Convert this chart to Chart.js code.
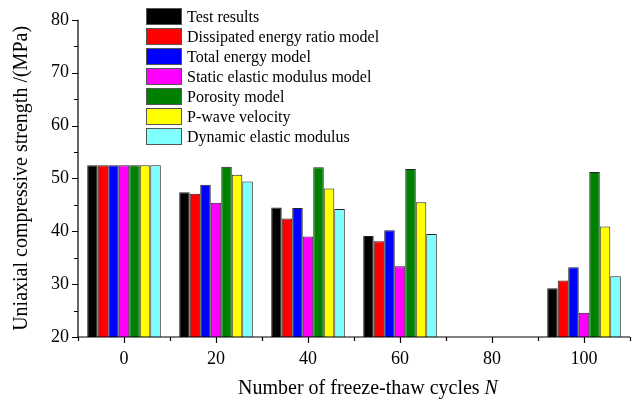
<!DOCTYPE html>
<html>
<head>
<meta charset="utf-8">
<script src="https://cdn.jsdelivr.net/npm/chart.js@4/dist/chart.umd.min.js"></script>
<style>
  html, body { margin: 0; padding: 0; background: #fff; }
  #wrap { width: 633px; height: 404px; }
</style>
</head>
<body>
<div id="wrap"><canvas id="strength" width="633" height="404"></canvas></div>
<script>
// freeze-thaw cycles
const cycles = ['0', '20', '40', '60', '80', '100'];

// uniaxial compressive strength (MPa) for each method, no data at 80 cycles
const testResults      = [52.5, 47.4, 44.5, 39.1, null, 29.2];
const dissipatedEnergy = [52.5, 47.1, 42.4, 38.1, null, 30.7];
const totalEnergy      = [52.5, 48.8, 44.4, 40.2, null, 33.2];
const staticModulus    = [52.5, 45.4, 39.0, 33.4, null, 24.6];
const porosity         = [52.5, 52.2, 52.1, 51.8, null, 51.2];
const pWaveVelocity    = [52.5, 50.7, 48.1, 45.5, null, 40.9];
const dynamicModulus   = [52.5, 49.4, 44.2, 39.5, null, 31.5];

const yTicks = [20, 30, 40, 50, 60, 70, 80];

const serif = '"Liberation Serif", "Times New Roman", serif';

function series(label, data, color) {
    return {
        label: label,
        data: data,
        backgroundColor: color,
        borderColor: '#222',
        borderWidth: 1,
        borderSkipped: 'bottom'
    };
}

// axis lines, major and minor tick marks, x title with italic N
const axesPlugin = {
    id: 'axes',
    afterDraw(chart) {
        const ctx = chart.ctx;
        const x = chart.scales.x;
        const y = chart.scales.y;
        const area = chart.chartArea;
        ctx.save();
        ctx.strokeStyle = '#000';
        ctx.lineWidth = 1.2;
        ctx.beginPath();
        ctx.moveTo(area.left, area.top);
        ctx.lineTo(area.left, area.bottom);
        ctx.lineTo(area.right, area.bottom);
        ctx.stroke();

        ctx.beginPath();
        for (let v = yTicks[0]; v <= yTicks[yTicks.length - 1]; v += 5) {
            const py = Math.round(y.getPixelForValue(v)) + 0.5;
            const len = v % 10 === 0 ? 6 : 4;
            ctx.moveTo(area.left, py);
            ctx.lineTo(area.left - len, py);
        }
        for (let i = -0.5; i <= cycles.length - 0.5; i += 0.5) {
            const px = Math.round(x.getPixelForValue(i)) + 0.5;
            const len = Number.isInteger(i) ? 6 : 4;
            ctx.moveTo(px, area.bottom);
            ctx.lineTo(px, area.bottom + len);
        }
        ctx.stroke();

        const main = 'Number of freeze-thaw cycles ';
        const sym = 'N';
        ctx.font = '20px ' + serif;
        const w1 = ctx.measureText(main).width;
        ctx.font = 'italic 20px ' + serif;
        const w2 = ctx.measureText(sym).width;
        const startX = (area.left + area.right) / 2 + 14 - (w1 + w2) / 2;
        const ty = 389;
        ctx.fillStyle = '#000';
        ctx.textBaseline = 'middle';
        ctx.textAlign = 'left';
        ctx.font = '20px ' + serif;
        ctx.fillText(main, startX, ty);
        ctx.font = 'italic 20px ' + serif;
        ctx.fillText(sym, startX + w1, ty);
        ctx.restore();
    }
};

// legend in the upper part of the plot
const boxLegend = {
    id: 'boxLegend',
    afterDraw(chart) {
        const ctx = chart.ctx;
        const left = 146, top = 8, rowH = 20, boxW = 36, boxH = 17;
        ctx.save();
        ctx.font = '16px ' + serif;
        ctx.textBaseline = 'middle';
        chart.data.datasets.forEach(function(ds, i) {
            const ty = top + i * rowH;
            ctx.fillStyle = ds.backgroundColor;
            ctx.fillRect(left, ty, boxW, boxH);
            ctx.strokeStyle = '#555';
            ctx.lineWidth = 1;
            ctx.strokeRect(left + 0.5, ty + 0.5, boxW - 1, boxH - 1);
            ctx.fillStyle = '#000';
            ctx.fillText(ds.label, left + boxW + 5, ty + boxH / 2 + 1);
        });
        ctx.restore();
    }
};

const chart = new Chart(document.getElementById('strength').getContext('2d'), {
    type: 'bar',
    data: {
        labels: cycles,
        datasets: [
            series('Test results', testResults, '#000000'),
            series('Dissipated energy ratio model', dissipatedEnergy, '#ff0000'),
            series('Total energy model', totalEnergy, '#0000ff'),
            series('Static elastic modulus model', staticModulus, '#ff00ff'),
            series('Porosity model', porosity, '#008000'),
            series('P-wave velocity', pWaveVelocity, '#ffff00'),
            series('Dynamic elastic modulus', dynamicModulus, '#80ffff')
        ]
    },
    options: {
        responsive: false,
        animation: false,
        datasets: {
            bar: { categoryPercentage: 0.80, barPercentage: 1.0 }
        },
        layout: { padding: { top: 15, right: 3, left: 0, bottom: 0 } },
        plugins: {
            legend: { display: false },
            tooltip: { enabled: false }
        },
        scales: {
            x: {
                offset: true,
                grid: { display: false, drawTicks: false },
                border: { display: false },
                ticks: {
                    color: '#000',
                    font: { family: serif, size: 18 },
                    padding: 11
                },
                afterFit(scale) { scale.height = 67; }
            },
            y: {
                min: 20,
                max: 80,
                afterBuildTicks(scale) {
                    scale.ticks = yTicks.map(function(v) { return { value: v }; });
                },
                grid: { display: false, drawTicks: false },
                border: { display: false },
                ticks: {
                    color: '#000',
                    font: { family: serif, size: 18 },
                    padding: 9
                },
                title: {
                    display: true,
                    text: 'Uniaxial compressive strength /(MPa)',
                    color: '#000',
                    font: { family: serif, size: 20 },
                    padding: { top: 10, bottom: 4 }
                },
                afterFit(scale) { scale.width = 78; }
            }
        }
    },
    plugins: [axesPlugin, boxLegend]
});
</script>
</body>
</html>
